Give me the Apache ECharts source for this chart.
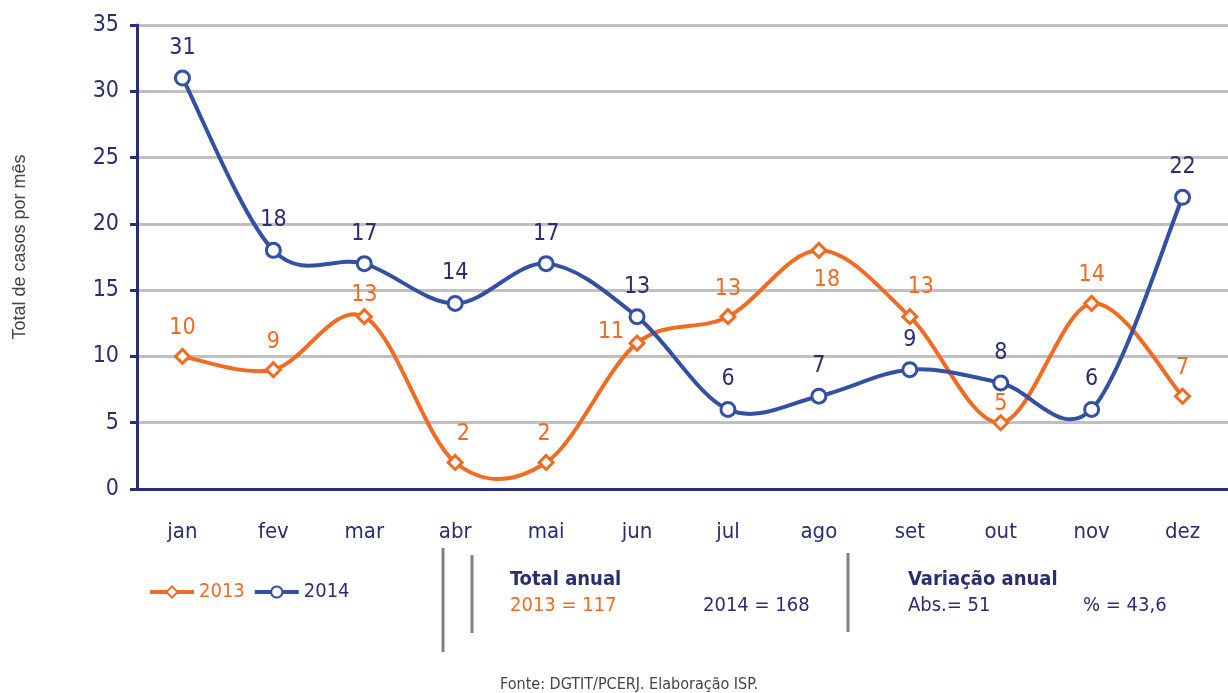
<!DOCTYPE html>
<html>
<head>
<meta charset="utf-8">
<script src="https://cdn.jsdelivr.net/npm/echarts@6/dist/echarts.min.js"></script>
<style>
  html, body { margin: 0; padding: 0; background: #fff; }
  #chart { width: 1228px; height: 693px; }
</style>
</head>
<body>
<div id="chart"></div>
<script>
// dados
const months = ['jan', 'fev', 'mar', 'abr', 'mai', 'jun', 'jul', 'ago', 'set', 'out', 'nov', 'dez']
const casos2013 = [10, 9, 13, 2, 2, 11, 13, 18, 13, 5, 14, 7]
const casos2014 = [31, 18, 17, 14, 17, 13, 6, 7, 9, 8, 6, 22]
const yTicks = [0, 5, 10, 15, 20, 25, 30, 35]

const NARROW = "'Liberation Sans Narrow', 'DejaVu Sans Condensed', sans-serif"
const ORANGE = '#f26b22'
const BLUE = '#3350a3'
const NAVY = '#2b2d72'

// ajustes de posição dos rótulos (índice -> offset)
const off2013 = { 2: [0, 6], 3: [8, 0], 4: [-2, 0], 5: [-26, 17], 7: [8, 58], 8: [11, -2], 9: [0, 9] }
const off2014 = {}

function withLabels(values, offsets) {
    return values.map((v, i) => {
        if (offsets[i]) {
            return { value: v, label: { offset: offsets[i] } }
        }
        return v
    })
}

// curva suavizada tipo Excel (Catmull-Rom), um segmento por ponto
function smoothCurve(values, color) {
    return {
        type: 'custom',
        silent: true,
        z: 2,
        data: values.map((v, i) => [i, v]),
        encode: { x: 0, y: 1 },
        renderItem: function(params, api) {
            const i = params.dataIndex
            const n = values.length
            if (i >= n - 1) return null
            const pt = (j) => api.coord([Math.max(0, Math.min(n - 1, j)), values[Math.max(0, Math.min(n - 1, j))]])
            const p0 = pt(i - 1), p1 = pt(i), p2 = pt(i + 1), p3 = pt(i + 2)
            return {
                type: 'bezierCurve',
                shape: {
                    x1: p1[0], y1: p1[1],
                    x2: p2[0], y2: p2[1],
                    cpx1: p1[0] + (p2[0] - p0[0]) / 6,
                    cpy1: p1[1] + (p2[1] - p0[1]) / 6,
                    cpx2: p2[0] - (p3[0] - p1[0]) / 6,
                    cpy2: p2[1] - (p3[1] - p1[1]) / 6
                },
                style: { stroke: color, lineWidth: 4, fill: null }
            }
        }
    }
}

const chart = echarts.init(document.getElementById('chart'))
const option = {
    animation: false,
    grid: {
        left: 137,
        top: 25,
        width: 1099,
        height: 464
    },
    legend: {
        left: 148,
        top: 582,
        padding: 0,
        itemWidth: 44,
        itemHeight: 14,
        itemGap: 8,
        textStyle: { fontFamily: NARROW, fontSize: 20 },
        data: [
            { name: '2013', textStyle: { color: ORANGE }, lineStyle: { width: 4, opacity: 1, color: ORANGE } },
            { name: '2014', textStyle: { color: NAVY }, lineStyle: { width: 4, opacity: 1, color: BLUE } }
        ]
    },
    xAxis: {
        type: 'category',
        data: months,
        axisLine: { lineStyle: { color: NAVY, width: 3 } },
        axisTick: { length: 8, lineStyle: { color: NAVY, width: 3 } },
        axisLabel: { color: NAVY, fontFamily: NARROW, fontSize: 22, margin: 32 }
    },
    yAxis: {
        type: 'value',
        min: yTicks[0],
        max: yTicks[yTicks.length - 1],
        interval: 5,
        name: 'Total de casos por mês',
        nameLocation: 'middle',
        nameGap: 108,
        nameTextStyle: { color: '#444', fontFamily: "'Liberation Sans', sans-serif", fontSize: 18, padding: [0, 0, 0, 20] },
        axisLine: { show: true, lineStyle: { color: NAVY, width: 3 } },
        axisTick: { show: true, length: 7, lineStyle: { color: NAVY, width: 3 } },
        axisLabel: { color: NAVY, fontFamily: NARROW, fontSize: 23, margin: 18 },
        splitLine: { lineStyle: { color: '#c0c0c0', width: 3 } }
    },
    series: [
        {
            name: '2013',
            type: 'line',
            data: withLabels(casos2013, off2013),
            symbol: 'diamond',
            symbolSize: 14,
            itemStyle: { color: '#fff', borderColor: ORANGE, borderWidth: 3 },
            lineStyle: { color: ORANGE, width: 0, opacity: 0 },
            label: {
                show: true,
                position: 'top',
                distance: 8,
                color: ORANGE,
                fontFamily: NARROW,
                fontSize: 23
            },
            z: 5
        },
        {
            name: '2014',
            type: 'line',
            data: withLabels(casos2014, off2014),
            symbol: 'circle',
            symbolSize: 14,
            itemStyle: { color: '#fff', borderColor: BLUE, borderWidth: 3 },
            lineStyle: { color: BLUE, width: 0, opacity: 0 },
            label: {
                show: true,
                position: 'top',
                distance: 10,
                color: NAVY,
                fontFamily: NARROW,
                fontSize: 23
            },
            z: 6
        },
        smoothCurve(casos2013, ORANGE),
        smoothCurve(casos2014, BLUE)
    ],
    graphic: [
        { type: 'line', shape: { x1: 443, y1: 548, x2: 443, y2: 652 }, style: { stroke: '#808080', lineWidth: 3 } },
        { type: 'line', shape: { x1: 472, y1: 555, x2: 472, y2: 633 }, style: { stroke: '#808080', lineWidth: 3 } },
        { type: 'line', shape: { x1: 848, y1: 553, x2: 848, y2: 632 }, style: { stroke: '#808080', lineWidth: 3 } },
        { type: 'text', left: 510, top: 570, style: { text: 'Total anual', fill: NAVY, font: "bold 20px " + NARROW } },
        { type: 'text', left: 510, top: 596, style: { text: '2013 = 117', fill: ORANGE, font: "20px " + NARROW } },
        { type: 'text', left: 703, top: 596, style: { text: '2014 = 168', fill: NAVY, font: "20px " + NARROW } },
        { type: 'text', left: 908, top: 570, style: { text: 'Variação anual', fill: NAVY, font: "bold 20px " + NARROW } },
        { type: 'text', left: 908, top: 596, style: { text: 'Abs.= 51', fill: NAVY, font: "20px " + NARROW } },
        { type: 'text', left: 1083, top: 596, style: { text: '% = 43,6', fill: NAVY, font: "20px " + NARROW } },
        { type: 'text', left: 500, top: 677, style: { text: 'Fonte: DGTIT/PCERJ. Elaboração ISP.', fill: '#444', font: "16px " + NARROW } }
    ]
}
chart.setOption(option)
window.addEventListener('resize', function() {
    chart.resize()
})
</script>
</body>
</html>
